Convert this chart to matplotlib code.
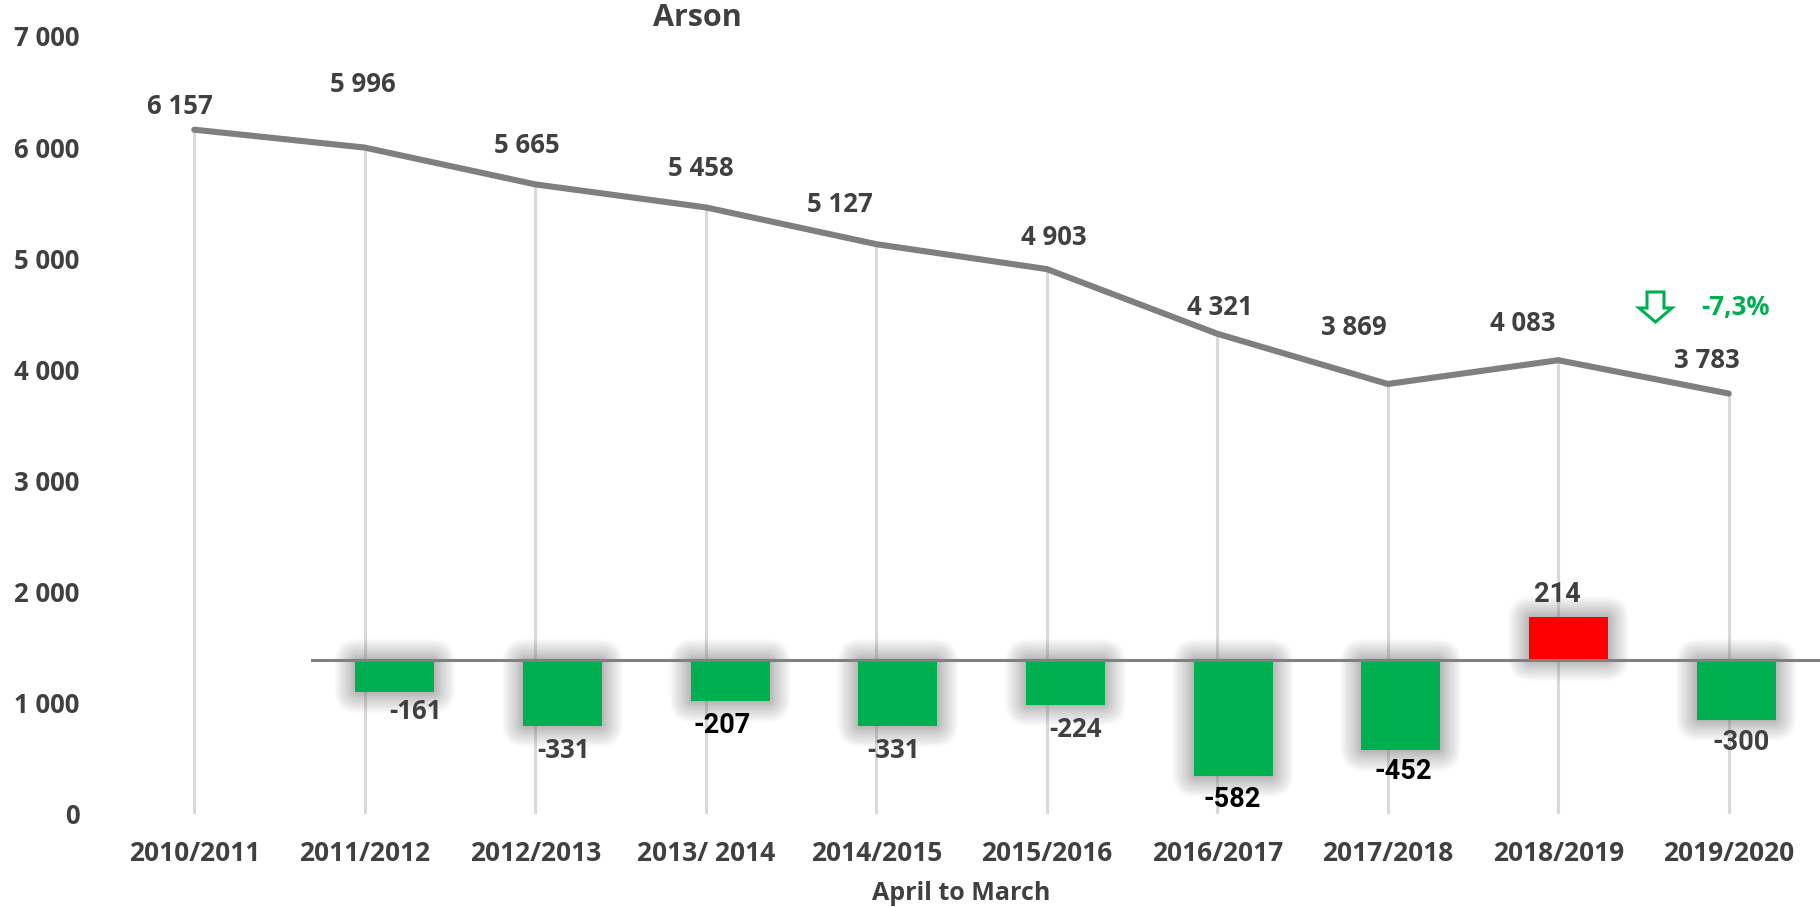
import numpy as np
import matplotlib
matplotlib.use("Agg")
import matplotlib.pyplot as plt
from matplotlib.patches import Polygon, FancyBboxPatch
from matplotlib.transforms import IdentityTransform

# ---- data -------------------------------------------------------------
seasons = ["2010/2011", "2011/2012", "2012/2013", "2013/ 2014", "2014/2015",
           "2015/2016", "2016/2017", "2017/2018", "2018/2019", "2019/2020"]
offences = [6157, 5996, 5665, 5458, 5127, 4903, 4321, 3869, 4083, 3783]
yearly_change = [-161, -331, -207, -331, -224, -582, -452, 214, -300]
y_ticks = [0, 1000, 2000, 3000, 4000, 5000, 6000, 7000]

# ---- styling ----------------------------------------------------------
W, H = 1820, 907
DARK = "#404040"
GREEN = "#00b050"
RED = "#ff0000"
SEGOE = ["Open Sans", "DejaVu Sans"]
CALIBRI = ["Roboto", "DejaVu Sans"]


def fmt(v):
    return f"{v:,}".replace(",", " ")


fig = plt.figure(figsize=(W / 100, H / 100), dpi=100)
fig.patch.set_facecolor("white")

# main axes: offences line with drop lines
L, R, TOP, BOT = 109, 1814, 36, 814
ax = fig.add_axes([L / W, (H - BOT) / H, (R - L) / W, (BOT - TOP) / H])
ax.set_facecolor("none")
x = np.arange(len(seasons))
ax.set_xlim(-0.5, len(seasons) - 0.5)
ax.set_ylim(0, 7000)
ax.vlines(x, 0, offences, color="#d9d9d9", lw=2.2, zorder=1)
ax.plot(x, offences, color="#7f7f7f", lw=4.4, solid_capstyle="round",
        solid_joinstyle="round", zorder=3)
for s in ax.spines.values():
    s.set_visible(False)
ax.set_yticks(y_ticks)
ax.set_yticklabels([fmt(t) for t in y_ticks])
ax.set_xticks(x)
ax.set_xticklabels(seasons)
ax.tick_params(length=0)
ax.tick_params(axis="y", pad=21)
ax.tick_params(axis="x", pad=19)
for lab in ax.get_yticklabels():
    lab.set_fontfamily(SEGOE)
    lab.set_fontweight("bold")
    lab.set_fontsize(18.5)
    lab.set_color(DARK)
for lab in ax.get_xticklabels():
    lab.set_fontfamily(SEGOE)
    lab.set_fontweight("bold")
    lab.set_fontsize(19)
    lab.set_color(DARK)

# value labels above the line (pixel offsets from each point)
line_offsets = [(-14, 23), (-2, 63), (-8, 39), (-5, 39), (-36, 40),
                (7, 32), (3, 26), (-34, 56), (-35, 37), (-22, 33)]
for xi, v, (dx, dy) in zip(x, offences, line_offsets):
    ax.annotate(fmt(v), (xi, v), xytext=(dx, dy), textcoords="offset pixels",
                ha="center", va="center", fontsize=18.5, fontweight="bold",
                family=SEGOE, color=DARK, zorder=4)

# secondary axes: year-on-year change bars
BL = 311
ax2 = fig.add_axes([BL / W, (H - BOT) / H, (W - BL) / W, (BOT - TOP) / H])
ax2.set_facecolor("none")
ax2.axis("off")
xb = np.arange(len(yearly_change))
ax2.set_xlim(-0.5, len(yearly_change) - 0.5)
base_px = 660
scale = 0.2  # pixels per unit
ax2.set_ylim(-(BOT - base_px) / scale, (base_px - TOP) / scale)
bar_colors = [RED if v > 0 else GREEN for v in yearly_change]
bars = ax2.bar(xb, yearly_change, width=0.47, color=bar_colors, zorder=3)
ax2.axhline(0, color="#808080", lw=2.2, zorder=4)

# soft shadow around each bar: stacked translucent rounded boxes in pixels
n_layers = 24
for b in bars:
    (x0, y0), (x1, y1) = ax2.transData.transform(
        [(b.get_x(), min(0, b.get_height())),
         (b.get_x() + b.get_width(), max(0, b.get_height()))])
    for i in range(1, n_layers + 1):
        p = 21 * (i / n_layers) ** 1.4
        glow = FancyBboxPatch((x0, y0), x1 - x0, y1 - y0,
                              boxstyle=f"round,pad={p:.2f},rounding_size={p + 3:.2f}",
                              transform=IdentityTransform(), facecolor="#7a7a7a",
                              edgecolor="none", alpha=0.026, zorder=1)
        ax2.add_patch(glow)

# change labels
bar_offsets = [(21, -19), (1, -24), (-8, -24), (-4, -24), (10, -25),
               (-1, -23), (2, -21), (-11, 23), (5, -23)]
bar_label_colors = [DARK, DARK, "black", DARK, DARK, "black", "black", DARK, DARK]
bar_label_fonts = [SEGOE, SEGOE, CALIBRI, SEGOE, SEGOE, CALIBRI, CALIBRI,
                   CALIBRI, CALIBRI]
for xi, v, (dx, dy), c, f in zip(xb, yearly_change, bar_offsets,
                                 bar_label_colors, bar_label_fonts):
    ax2.annotate(f"{v}", (xi, v), xytext=(dx, dy), textcoords="offset pixels",
                 ha="center", va="center", fontsize=18.5 if f is SEGOE else 19.5,
                 fontweight="bold", family=f, color=c, zorder=5)

# title and axis caption
fig.text(697 / W, 1 - 18 / H, "Arson", ha="center", va="center", fontsize=22,
         fontweight="bold", family=SEGOE, color=DARK)
fig.text(961 / W, 1 - 893 / H, "April to March", ha="center", va="center",
         fontsize=18, fontweight="bold", family=SEGOE, color=DARK)

# overall change indicator
pct = (offences[-1] / offences[-2] - 1) * 100
pct_txt = f"{pct:.1f}%".replace(".", ",")
arrow_px = [(1647, 292), (1664, 292), (1664, 308), (1672, 308), (1655.5, 322),
            (1639, 308), (1647, 308)]
arrow = Polygon([(px / W, 1 - py / H) for px, py in arrow_px], closed=True,
                transform=fig.transFigure, facecolor="white", edgecolor=GREEN,
                lw=2.2, joinstyle="miter")
fig.patches.append(arrow)
fig.text(1736 / W, 1 - 307 / H, pct_txt, ha="center", va="center",
         fontsize=18.5, fontweight="bold", family=SEGOE, color=GREEN)

fig.savefig("out.png", dpi=100, facecolor="white")
